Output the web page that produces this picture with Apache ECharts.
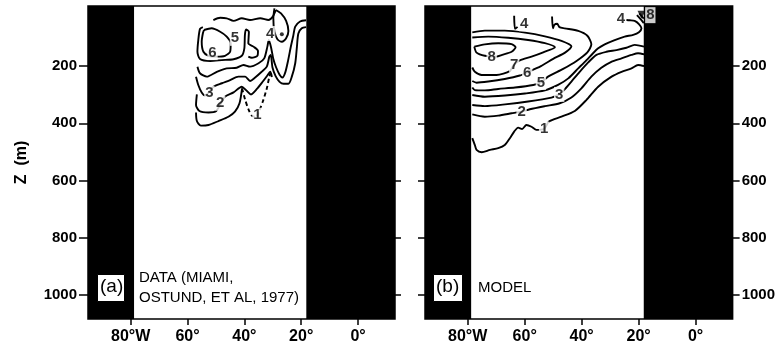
<!DOCTYPE html>
<html><head><meta charset="utf-8">
<script src="https://cdn.jsdelivr.net/npm/echarts@6/dist/echarts.min.js"></script>
<style>html,body{margin:0;padding:0;background:#fff}#c{width:778px;height:348px}</style>
</head><body><div id="c"></div>
<script>
// ---- axes / ticks ----
const lonRange = [-95, 13];
const depthRange = [-10, 1084];
const lonTicks = [-80, -60, -40, -20, 0];
const depthTicks = [200, 400, 600, 800, 1000];
// land (black) longitude spans
const landWest = [-95, -78.8];
const landEast = [-18.2, 13];

// ---- panel (a) DATA contours [lon, depth] ----
const aTop = [[-50.9,39],[-48.5,31],[-46.2,33],[-43.8,42],[-40.9,33],[-38.0,39],[-34.4,33],[-31.5,39],[-30.0,27],[-28.9,4]];
const a6 = [[-54.2,74],[-51.5,68],[-48.5,80],[-46.2,97],[-44.8,120],[-45.0,150],[-46.8,164],[-49.7,167],[-52.6,164],[-54.4,150],[-55.0,115],[-54.6,86],[-54.2,74]];
const a5 = [[-54.6,64],[-55.6,70],[-56.2,109],[-56.5,150],[-55.6,175],[-52.0,182],[-47.9,179],[-43.8,176],[-40.9,164],[-40.0,138],[-39.8,91],[-39.4,72],[-38.4,80],[-38.6,120],[-36.8,132],[-35.2,147],[-35.4,164],[-37.4,171],[-38.6,167]];
const a4loop = [[-28.9,4],[-27.1,16],[-25.3,42],[-24.5,77],[-25.3,103],[-26.8,115],[-28.3,107],[-29.4,80],[-29.8,33],[-29.4,-2]];
const a4 = [[-56.5,202],[-55.6,225],[-53.2,237],[-49.7,220],[-46.2,208],[-42.7,206],[-40.3,196],[-38.0,202],[-35.0,190],[-33.0,173],[-31.9,132],[-31.4,109],[-30.6,135],[-29.8,175],[-28.8,205],[-27.6,230],[-26.6,240],[-25.6,222],[-24.6,180],[-23.6,130],[-22.8,95],[-22.1,62],[-20.4,44],[-18.3,40]];
const a3 = [[-57.0,237],[-56.2,266],[-55.0,292],[-53.8,303],[-50.9,272],[-47.9,260],[-45.0,249],[-42.1,237],[-39.7,237],[-38.0,252],[-36.2,240],[-33.9,220],[-32.1,202],[-31.2,167],[-30.7,161],[-30.1,205],[-29.0,235],[-27.6,255],[-26.2,262],[-24.5,262],[-23.3,237],[-22.1,190],[-21.5,132],[-21.0,86],[-19.8,68],[-18.3,64]];
const a2 = [[-56.7,299],[-57.0,336],[-55.8,357],[-52.6,362],[-49.9,357],[-46.8,307],[-43.8,292],[-40.9,272],[-39.4,284],[-37.7,299],[-35.6,280],[-33.5,254],[-31.9,233],[-30.9,220],[-30.3,238]];
const a1 = [[-57.0,362],[-56.7,392],[-55.3,408],[-52.6,406],[-49.1,392],[-45.6,377],[-43.3,359],[-41.7,330],[-40.8,278]];
const a1dash = [[-40.8,278],[-39.7,318],[-38.6,350],[-37.4,373],[-35.8,378],[-35.0,362],[-33.5,324],[-32.1,278],[-31.2,237],[-30.8,225]];
const aLabels = [[-51.2,153,'6'],[-43.3,103,'5'],[-30.9,86,'4'],[-52.3,295,'3'],[-48.5,330,'2'],[-35.4,372,'1']];
const aDot = [[-26.8,89]];

// ---- panel (b) MODEL contours [lon, depth] ----
const b8 = [[-77.7,132],[-74.0,124],[-69.3,120],[-64.6,123],[-63.2,134],[-64.6,150],[-67.9,161],[-69.9,167],[-74.0,164],[-76.9,153],[-77.7,132]];
const b7 = [[-78.4,100],[-72.8,97],[-65.8,101],[-58.8,109],[-52.9,120],[-49.4,134],[-53.5,152],[-57.6,167],[-61.7,180],[-63.7,194],[-65.2,217],[-69.9,231],[-75.1,231],[-77.5,220],[-78.4,205]];
const b6 = [[-78.4,82],[-74.0,76],[-67.0,76],[-59.9,83],[-52.9,96],[-47.1,112],[-43.6,131],[-45.7,152],[-50.0,175],[-54.3,200],[-59.1,222],[-61.7,233],[-67.0,245],[-72.8,254],[-76.9,258],[-78.4,252]];
const b5 = [[-50.4,27],[-50.1,68],[-49.6,56],[-48.6,52],[-47.8,64],[-46.0,68],[-41.2,77],[-38.0,94],[-36.6,124],[-38.0,152],[-41.8,182],[-46.5,210],[-51.8,237],[-54.3,257],[-57.0,266],[-63.4,275],[-69.3,280],[-74.0,285],[-77.5,284],[-78.4,275]];
const b4 = [[-78.4,301],[-74.0,307],[-66.9,303],[-59.9,296],[-52.9,285],[-48.3,266],[-44.7,243],[-41.2,208],[-38.3,179],[-36.0,155],[-34.2,138],[-31.9,124],[-28.4,109],[-24.9,97],[-21.9,91],[-19.9,82],[-19.0,68],[-19.9,53],[-21.4,42],[-23.1,40],[-24.3,39]];
const b4stub = [[-63.7,24],[-63.4,70],[-62.5,63]];
const b3 = [[-78.4,336],[-74.0,340],[-66.9,334],[-58.8,324],[-50.6,310],[-47.9,299],[-46.2,284],[-43.6,254],[-40.7,220],[-37.7,187],[-34.8,161],[-31.3,150],[-27.8,144],[-24.3,136],[-21.4,126],[-18.1,132]];
const b2 = [[-78.4,369],[-74.0,377],[-69.3,373],[-64.6,365],[-61.1,359],[-58.2,351],[-52.9,340],[-47.7,330],[-43.6,310],[-40.1,278],[-36.6,237],[-33.1,206],[-29.6,185],[-26.0,173],[-22.5,161],[-20.2,155],[-17.9,159]];
const b1 = [[-78.4,452],[-77.5,476],[-76.9,493],[-75.1,501],[-72.2,493],[-69.3,487],[-67.0,476],[-65.2,452],[-63.7,429],[-62.3,415],[-60.9,420],[-59.4,406],[-57.6,412],[-55.9,423],[-53.2,420],[-51.5,394],[-47.1,377],[-42.4,357],[-38.3,318],[-34.2,272],[-29.5,237],[-26.0,220],[-22.5,208],[-20.2,196],[-17.9,200]];
const bHatch1 = [[-20.6,22],[-19.4,35],[-18.2,50]];
const bHatch2 = [[-19.8,16],[-18.9,26],[-18.2,34]];
const bLabels = [[-71.6,167,'8'],[-63.7,194,'7'],[-59.1,222,'6'],[-54.3,257,'5'],[-47.9,299,'3'],[-61.1,359,'2'],[-53.2,420,'1'],[-60.2,52,'4'],[-26.2,36,'4']];
const bBoxLabel = [[-15.9,22,'8']];
const bTriangle = [[-19.0,21]];

// ---- build option ----
const FONT = 'Liberation Sans, Arial, sans-serif';
function contour(data, g, dashed) {
  return {type:'line', xAxisIndex:g, yAxisIndex:g*2, data:data, showSymbol:false, symbol:'none',
    smooth:0.25, silent:true, z:3,
    lineStyle:{color:'#000', width:1.9, type: dashed ? [4,3] : 'solid'}};
}
function labels(data, g, boxed) {
  return {type:'scatter', xAxisIndex:g, yAxisIndex:g*2, data:data, symbolSize:1, silent:true, z:5,
    itemStyle:{color:'rgba(0,0,0,0)'},
    label:{show:true, position:'inside', formatter:p=>p.data[2], color:'#000',
      fontFamily:FONT, fontSize:15, fontWeight:'bold', backgroundColor:'#fff',
      padding: boxed ? [1,1,0,1] : [0,1], borderColor: boxed ? '#000' : 'transparent', borderWidth: boxed ? 1 : 0}};
}
function land(g) {
  return {type:'custom', xAxisIndex:g, yAxisIndex:g*2, silent:true, z:1,
    data:[landWest, landEast], encode:{x:[0,1]},
    renderItem:(params, api) => {
      const p0 = api.coord([api.value(0), depthRange[0]]);
      const p1 = api.coord([api.value(1), depthRange[1]]);
      return {type:'rect', shape:{x:p0[0], y:p0[1], width:p1[0]-p0[0], height:p1[1]-p0[1]}, style:{fill:'#000'}};
    }};
}
const lonFmt = v => v === -80 ? '80°W' : Math.abs(v) + '°';
function xAx(g) {
  return {type:'value', gridIndex:g, min:lonRange[0], max:lonRange[1], position:'bottom',
    axisLine:{show:false, onZero:false}, splitLine:{show:false},
    axisTick:{show:true, customValues:lonTicks, length:6, lineStyle:{color:'#000', width:1.5}},
    axisLabel:{show:true, customValues:lonTicks, formatter:lonFmt, margin:10, color:'#000',
      fontFamily:FONT, fontSize:16, fontWeight:'bold'}};
}
function yAx(g, pos, showLabel, tickLen, extra) {
  return Object.assign({type:'value', gridIndex:g, inverse:true, min:depthRange[0], max:depthRange[1], position:pos,
    axisLine:{show:false, onZero:false}, splitLine:{show:false},
    axisTick:{show:true, customValues:depthTicks, length:tickLen, lineStyle:{color:'#000', width:1.5}},
    axisLabel:{show:showLabel, customValues:depthTicks, formatter:v=>String(v), margin:tickLen+2, color:'#000',
      fontFamily:FONT, fontSize:15, fontWeight:'bold'}}, extra || {});
}

const option = {
  backgroundColor:'#fff',
  animation:false,
  grid:[
    {left:88, top:6, width:307, height:313, show:true, borderColor:'#000', borderWidth:1.5, backgroundColor:'transparent'},
    {left:425, top:6, width:308, height:313, show:true, borderColor:'#000', borderWidth:1.5, backgroundColor:'transparent'}
  ],
  xAxis:[xAx(0), xAx(1)],
  yAxis:[
    yAx(0,'left',true,9,{name:'Z  (m)', nameLocation:'middle', nameRotate:90, nameGap:58,
      nameTextStyle:{fontFamily:FONT, fontSize:16, fontWeight:'bold', color:'#000'}}),
    yAx(0,'right',false,6),
    yAx(1,'left',false,7),
    yAx(1,'right',true,7)
  ],
  series:[
    land(0), land(1),
    contour(aTop,0), contour(a6,0), contour(a5,0), contour(a4loop,0), contour(a4,0),
    contour(a3,0), contour(a2,0), contour(a1,0), contour(a1dash,0,true),
    {type:'scatter', xAxisIndex:0, yAxisIndex:0, data:aDot, symbolSize:4, itemStyle:{color:'#000'}, silent:true, z:4},
    labels(aLabels,0),
    contour(b8,1), contour(b7,1), contour(b6,1), contour(b5,1), contour(b4,1), contour(b4stub,1),
    contour(b3,1), contour(b2,1), contour(b1,1), contour(bHatch1,1), contour(bHatch2,1),
    {type:'scatter', xAxisIndex:1, yAxisIndex:2, data:bTriangle, symbol:'triangle', symbolRotate:180, symbolSize:8, itemStyle:{color:'#000'}, silent:true, z:4},
    labels(bLabels,1), labels(bBoxLabel,1,true)
  ],
  graphic:[
    {type:'rect', left:97, top:274, shape:{width:27, height:27}, style:{fill:'#fff', stroke:'#000', lineWidth:1}, z:10},
    {type:'text', left:100, top:277, style:{text:'(a)', font:'19px '+FONT, fill:'#000'}, z:11},
    {type:'rect', left:433, top:274, shape:{width:29, height:27}, style:{fill:'#fff', stroke:'#000', lineWidth:1}, z:10},
    {type:'text', left:436, top:277, style:{text:'(b)', font:'19px '+FONT, fill:'#000'}, z:11},
    {type:'text', left:139, top:270, style:{text:'DATA (MIAMI,', font:'15px '+FONT, fill:'#000'}, z:11},
    {type:'text', left:139, top:290, style:{text:'OSTUND, ET AL, 1977)', font:'15px '+FONT, fill:'#000'}, z:11},
    {type:'text', left:478, top:280, style:{text:'MODEL', font:'15px '+FONT, fill:'#000'}, z:11}
  ]
};
const chart = echarts.init(document.getElementById('c'), null, {renderer:'canvas'});
chart.setOption(option);
</script></body></html>
